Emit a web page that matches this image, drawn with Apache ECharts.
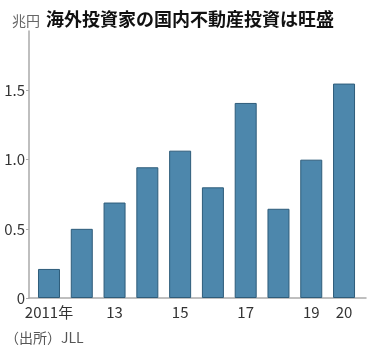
<!DOCTYPE html>
<html>
<head>
<meta charset="utf-8">
<script src="https://cdn.jsdelivr.net/npm/echarts@6/dist/echarts.min.js"></script>
<style>
  html, body { margin: 0; padding: 0; background: #fff; }
  #chart { width: 376px; height: 347px; }
</style>
</head>
<body>
<div id="chart"></div>
<script>
// Overseas investors' purchases of Japanese real estate (trillion yen)
const years = [2011, 2012, 2013, 2014, 2015, 2016, 2017, 2018, 2019, 2020];
const investment = [0.21, 0.50, 0.69, 0.945, 1.065, 0.80, 1.41, 0.645, 1.00, 1.55];

const xTickYears = [2011, 2013, 2015, 2017, 2019, 2020];
const xTickLabels = ['2011年', '13', '15', '17', '19', '20'];
const yTicks = [0, 0.5, 1.0, 1.5];
const yTickLabels = ['0', '0.5', '1.0', '1.5'];

const FONT = '"Noto Sans CJK JP", "Noto Sans", sans-serif';

const chart = echarts.init(document.getElementById('chart'), null, { renderer: 'canvas' });

chart.setOption({
  animation: false,
  backgroundColor: '#fff',
  textStyle: { fontFamily: FONT },
  title: [
    {
      text: '海外投資家の国内不動産投資は旺盛',
      left: 41, top: 5,
      textStyle: { fontSize: 18, fontWeight: 'bold', color: '#111', fontFamily: FONT }
    },
    {
      text: '兆円',
      left: 7, top: 9,
      textStyle: { fontSize: 14, fontWeight: 'normal', color: '#666', fontFamily: FONT }
    },
    {
      text: '（出所）JLL',
      left: 0, top: 326,
      textStyle: { fontSize: 14, fontWeight: 'normal', color: '#555', fontFamily: FONT }
    }
  ],
  grid: { left: 29, right: 10, top: 31, bottom: 49 },
  xAxis: {
    type: 'value',
    min: 2010.39,
    max: 2020.67,
    splitLine: { show: false },
    axisLine: { show: true, lineStyle: { color: '#aaa', width: 1.5 } },
    axisTick: { show: false },
    axisLabel: {
      customValues: xTickYears,
      formatter: v => xTickLabels[xTickYears.indexOf(v)] || '',
      fontSize: 15, color: '#333', margin: 7, fontFamily: FONT
    }
  },
  yAxis: {
    type: 'value',
    min: 0,
    max: 1.93,
    splitLine: { show: false },
    axisLine: { show: true, lineStyle: { color: '#aaa', width: 1.5 } },
    axisTick: { show: true, customValues: yTicks, length: 3, lineStyle: { color: '#aaa' } },
    axisLabel: {
      customValues: yTicks,
      formatter: v => yTickLabels[yTicks.indexOf(v)] || '',
      fontSize: 15, color: '#333', margin: 4, fontFamily: FONT
    }
  },
  series: [{
    type: 'bar',
    barWidth: 22,
    data: years.map((y, i) => [y, investment[i]]),
    itemStyle: { color: '#4d87ac', borderColor: '#2e5c7a', borderWidth: 1 }
  }]
});
</script>
</body>
</html>
